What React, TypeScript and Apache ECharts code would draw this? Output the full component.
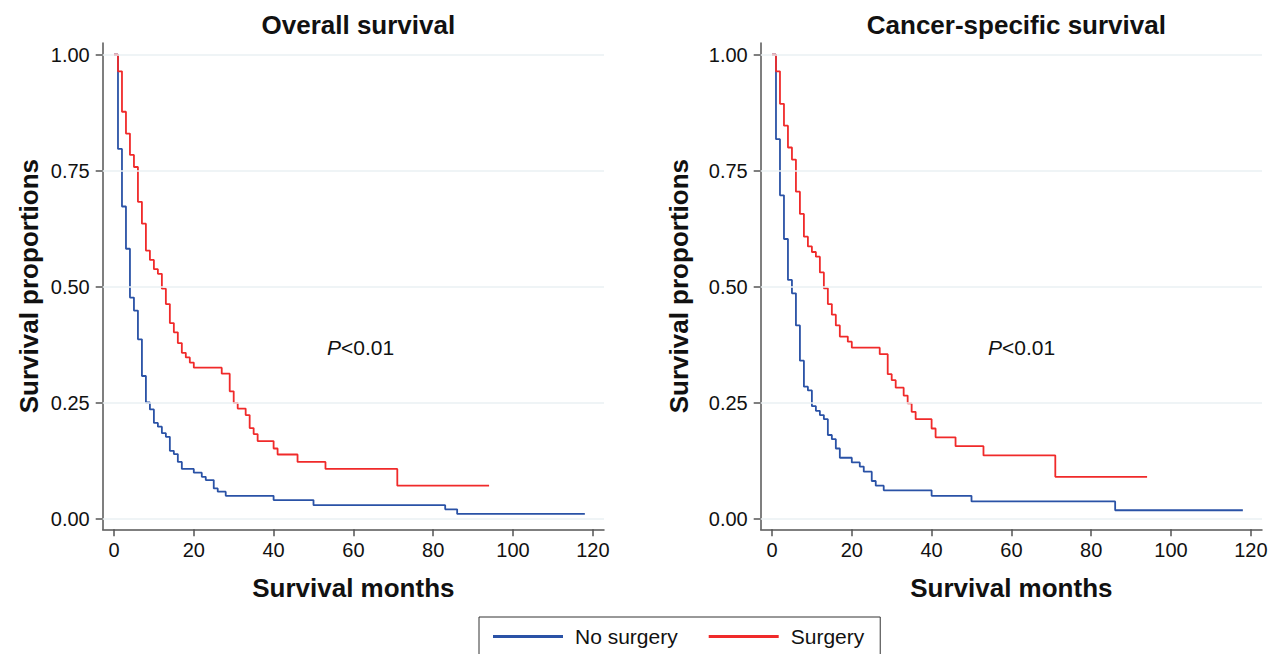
import React, { useEffect, useRef } from "react";
import * as echarts from "echarts";

// ---- Data ----
const xTickValues = [0, 20, 40, 60, 80, 100, 120];
const yTickValues = [0, 0.25, 0.5, 0.75, 1];
const seriesNames = ["No surgery", "Surgery"];
const panelTitles = ["Overall survival", "Cancer-specific survival"];

// Overall survival - Surgery
const osSurgeryTimes = [0, 1, 2, 3, 4, 5, 6, 7, 8, 9, 10, 11, 12, 13, 14, 15, 16, 17, 18, 19, 20, 27, 29, 30, 31, 33, 34, 35, 36, 40, 41, 46, 53, 71, 94];
const osSurgerySurv = [1, 0.964, 0.877, 0.83, 0.784, 0.758, 0.683, 0.636, 0.578, 0.558, 0.538, 0.528, 0.496, 0.463, 0.422, 0.402, 0.379, 0.358, 0.348, 0.337, 0.326, 0.313, 0.275, 0.25, 0.238, 0.224, 0.196, 0.183, 0.168, 0.152, 0.139, 0.123, 0.108, 0.072, 0.072];

// Overall survival - No surgery
const osNoSurgeryTimes = [0, 1, 2, 3, 4, 5, 6, 7, 8, 9, 10, 11, 12, 13, 14, 15, 16, 17, 20, 22, 23, 25, 26, 28, 40, 50, 83, 86, 118];
const osNoSurgerySurv = [1, 0.797, 0.673, 0.582, 0.477, 0.449, 0.387, 0.308, 0.251, 0.236, 0.207, 0.199, 0.185, 0.177, 0.147, 0.14, 0.123, 0.108, 0.1, 0.091, 0.084, 0.066, 0.059, 0.05, 0.041, 0.03, 0.021, 0.011, 0.011];

// Cancer-specific survival - Surgery
const cssSurgeryTimes = [0, 1, 2, 3, 4, 5, 6, 7, 8, 9, 10, 11, 12, 13, 14, 15, 16, 17, 19, 20, 27, 29, 30, 31, 33, 34, 35, 36, 40, 41, 46, 53, 71, 94];
const cssSurgerySurv = [1, 0.964, 0.894, 0.847, 0.8, 0.774, 0.705, 0.657, 0.608, 0.587, 0.575, 0.565, 0.531, 0.497, 0.463, 0.44, 0.417, 0.393, 0.382, 0.369, 0.355, 0.312, 0.299, 0.283, 0.266, 0.249, 0.231, 0.215, 0.195, 0.176, 0.157, 0.137, 0.091, 0.091];

// Cancer-specific survival - No surgery
const cssNoSurgeryTimes = [0, 1, 2, 3, 4, 5, 6, 7, 8, 9, 10, 11, 12, 13, 14, 15, 16, 17, 20, 22, 23, 25, 26, 28, 40, 50, 86, 118];
const cssNoSurgerySurv = [1, 0.818, 0.697, 0.603, 0.515, 0.486, 0.417, 0.341, 0.285, 0.277, 0.243, 0.233, 0.224, 0.215, 0.181, 0.172, 0.152, 0.132, 0.122, 0.113, 0.102, 0.082, 0.072, 0.062, 0.05, 0.038, 0.019, 0.019];

const pLabel = "{i|P}<0.01";

const FONT = "'Liberation Sans', Arial, Helvetica, sans-serif";
const BLUE = "#2a52a6";
const RED = "#f02a2a";
const AXIS = "#555555";

function zip(t: number[], s: number[]) {
  return t.map((v, i) => [v, s[i]]);
}

export default function App() {
  const ref = useRef<HTMLDivElement>(null);

  useEffect(() => {
    if (!ref.current) return;
    const chart = echarts.init(ref.current, null, { renderer: "svg" });

    const gridLefts = [102.7, 760.7];
    const gridWidth = 501.3;
    const nameGaps = [61, 69];

    const grids = gridLefts.map((l) => ({
      left: l,
      top: 43,
      width: gridWidth,
      height: 486.3,
      containLabel: false,
    }));

    const xAxes = gridLefts.map((_, i) => ({
      type: "value",
      gridIndex: i,
      min: -2.83,
      max: 122.8,
      name: "Survival months",
      nameLocation: "middle",
      nameGap: 46,
      nameTextStyle: { fontFamily: FONT, fontSize: 26, fontWeight: "bold", color: "#111" },
      axisLine: { show: true, onZero: false, lineStyle: { color: AXIS, width: 1.5 } },
      axisTick: { show: true, length: 7, lineStyle: { color: AXIS, width: 1.5 }, customValues: xTickValues },
      axisLabel: { fontFamily: FONT, fontSize: 20, color: "#111", margin: 11, customValues: xTickValues },
      splitLine: { show: false },
    }));

    const yAxes = gridLefts.map((_, i) => ({
      type: "value",
      gridIndex: i,
      min: -0.022,
      max: 1.025,
      name: "Survival proportions",
      nameLocation: "middle",
      nameGap: nameGaps[i],
      nameRotate: 90,
      nameTextStyle: { fontFamily: FONT, fontSize: 26, fontWeight: "bold", color: "#111" },
      axisLine: { show: true, onZero: false, lineStyle: { color: AXIS, width: 1.5 } },
      axisTick: { show: true, length: 7, lineStyle: { color: AXIS, width: 1.5 }, customValues: yTickValues },
      axisLabel: {
        fontFamily: FONT,
        fontSize: 20,
        color: "#111",
        margin: 13,
        customValues: yTickValues,
        formatter: (v: number) => v.toFixed(2),
      },
      splitLine: { show: false },
    }));

    const curves = [
      [zip(osNoSurgeryTimes, osNoSurgerySurv), zip(osSurgeryTimes, osSurgerySurv)],
      [zip(cssNoSurgeryTimes, cssNoSurgerySurv), zip(cssSurgeryTimes, cssSurgerySurv)],
    ];

    const series: any[] = [];
    gridLefts.forEach((_, i) => {
      series.push({
        type: "line",
        name: "grid-" + i,
        xAxisIndex: i,
        yAxisIndex: i,
        data: [],
        z: 1,
        silent: true,
        markLine: {
          silent: true,
          symbol: "none",
          label: { show: false },
          lineStyle: { color: "#eaf0f3", width: 1.5, type: "solid" },
          data: yTickValues.map((v) => ({ yAxis: v })),
        },
      });
      [BLUE, RED].forEach((c, k) => {
        series.push({
          type: "line",
          name: seriesNames[k],
          xAxisIndex: i,
          yAxisIndex: i,
          step: "end",
          symbol: "none",
          z: 3,
          lineStyle: { color: c, width: 1.8 },
          itemStyle: { color: c },
          data: curves[i][k],
        });
      });
    });

    const option: any = {
      animation: false,
      backgroundColor: "#ffffff",
      title: panelTitles.map((t, i) => ({
        text: t,
        left: gridLefts[i] + gridWidth / 2,
        top: 7,
        textAlign: "center",
        textStyle: { fontFamily: FONT, fontSize: 26, fontWeight: "bold", color: "#111" },
      })),
      legend: {
        data: seriesNames,
        left: 479,
        top: 617,
        orient: "horizontal",
        icon: "rect",
        itemWidth: 70,
        itemHeight: 3,
        itemGap: 31,
        borderColor: "#333",
        borderWidth: 1,
        padding: [9, 16, 14, 14],
        textStyle: { fontFamily: FONT, fontSize: 21, color: "#111", padding: [0, 0, 0, 7] },
      },
      grid: grids,
      xAxis: xAxes,
      yAxis: yAxes,
      series,
      graphic: [
        {
          type: "text",
          left: 327,
          top: 337,
          style: {
            text: pLabel,
            fontFamily: FONT,
            fontSize: 21,
            fill: "#111",
            rich: { i: { fontStyle: "italic", fontFamily: FONT, fontSize: 21, fill: "#111" } },
          },
        },
        {
          type: "text",
          left: 988,
          top: 337,
          style: {
            text: pLabel,
            fontFamily: FONT,
            fontSize: 21,
            fill: "#111",
            rich: { i: { fontStyle: "italic", fontFamily: FONT, fontSize: 21, fill: "#111" } },
          },
        },
      ],
    };

    chart.setOption(option);
    return () => chart.dispose();
  }, []);

  return (
    <div
      ref={ref}
      style={{ position: "fixed", left: 0, top: 0, width: 1278, height: 654, background: "#fff" }}
    />
  );
}
